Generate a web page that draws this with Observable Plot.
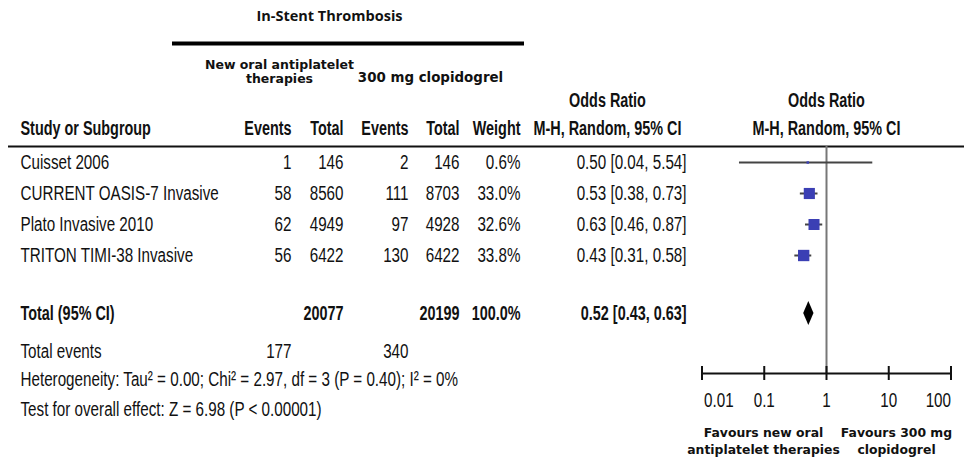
<!DOCTYPE html>
<html><head><meta charset="utf-8">
<script src="https://cdn.jsdelivr.net/npm/d3@7"></script>
<script src="https://cdn.jsdelivr.net/npm/@observablehq/plot@0.6"></script>
<style>
html,body{margin:0;padding:0;background:#fff;}
#chart{position:relative;width:964px;height:459px;overflow:hidden;background:#fff;}
#chart svg{position:absolute;left:0;top:0;}
</style></head><body><div id="chart"></div>
<script>
// ---------- DATA ----------
const studies = ["Cuisset 2006", "CURRENT OASIS-7 Invasive", "Plato Invasive 2010", "TRITON TIMI-38 Invasive"];
const eventsNew = [1, 58, 62, 56];
const totalNew = [146, 8560, 4949, 6422];
const eventsClop = [2, 111, 97, 130];
const totalClop = [146, 8703, 4928, 6422];
const weights = [0.6, 33.0, 32.6, 33.8];
const orEst = [0.50, 0.53, 0.63, 0.43];
const orLow = [0.04, 0.38, 0.46, 0.31];
const orHigh = [5.54, 0.73, 0.87, 0.58];

const pooledLabel = "Total (95% CI)";
const pooledTotals = [20077, 20199];
const pooledWeight = 100.0;
const pooledOR = [0.52, 0.43, 0.63]; // estimate, low, high
const totalEventsLabel = "Total events";
const totalEvents = [177, 340];
const heterogeneityText = "Heterogeneity: Tau\u00b2 = 0.00; Chi\u00b2 = 2.97, df = 3 (P = 0.40); I\u00b2 = 0%";
const overallEffectText = "Test for overall effect: Z = 6.98 (P < 0.00001)";

const titleText = "In-Stent Thrombosis";
const groupNew = ["New oral antiplatelet", "therapies"];
const groupClop = "300 mg clopidogrel";
const colHeaders = ["Events", "Total", "Events", "Total", "Weight"];
const orHeader = ["Odds Ratio", "M-H, Random, 95% CI"];
const studyHeader = "Study or Subgroup";
const axisTicks = [0.01, 0.1, 1, 10, 100];
const tickLabels = ["0.01", "0.1", "1", "10", "100"];
const favoursLeft = ["Favours new oral", "antiplatelet therapies"];
const favoursRight = ["Favours 300 mg", "clopidogrel"];

// ---------- LAYOUT (row units) ----------
const W = 964, H = 459;
const yScale = {domain: [-5.2258, 9.5806], range: [0, H]};
const L = {
  title: -4.71, titleRule: -3.84, group1: -3.13, group2: -2.68, groupClop: -2.74,
  orHead: -2.0, colHead: -1.097, headRule: -0.516,
  pooled: 4.87, totalEvents: 6.097, het: 7.0, effect: 7.968,
  axis: 6.806, tickHalf: 0.226, tickLabel: 7.68, fav1: 8.74, fav2: 9.26,
  diamondHalf: 0.39
};
const C = {study: 20, e1: 291, t1: 343, e2: 408, t2: 459, w: 520, ci: 686, ciMid: 607,
           grpNew: 279, grpClop: 430, title: 329, titleRuleX: [172, 524], headRuleX: [8, 964],
           favL: 763, favR: 896};
const narrow = "'Liberation Sans',Arial,sans-serif";   // condensed after rendering
const CONDENSE = {normal: 0.76, bold: 0.72};
const boldSans = "'DejaVu Sans',Verdana,sans-serif";
const FS = 20;

const fmtOR = (e, l, h) => `${e.toFixed(2)} [${l.toFixed(2)}, ${h.toFixed(2)}]`;
const rows = studies.map((s, i) => ({
  row: i, study: s, e1: String(eventsNew[i]), t1: String(totalNew[i]), e2: String(eventsClop[i]), t2: String(totalClop[i]),
  w: weights[i].toFixed(1) + "%", weight: weights[i], or: orEst[i], lo: orLow[i], hi: orHigh[i],
  orText: fmtOR(orEst[i], orLow[i], orHigh[i])
}));

const txt = (data, o) => Plot.text(data, {fontFamily: narrow, fontSize: FS, fill: "#111", ...o});

// ---------- TABLE LAYER ----------
const table = Plot.plot({
  width: W, height: H, margin: 0,
  x: {domain: [0, W], range: [0, W], axis: null},
  y: {...yScale, axis: null},
  marks: [
    Plot.text([titleText], {x: C.title, y: L.title, text: d => d, fontFamily: "'Open Sans',sans-serif", fontWeight: "bold", fontSize: 14.5, fill: "#111"}),
    Plot.ruleY([L.titleRule], {x1: C.titleRuleX[0], x2: C.titleRuleX[1], stroke: "#000", strokeWidth: 4}),
    Plot.text(groupNew, {x: C.grpNew, y: (d, i) => i === 0 ? L.group1 : L.group2, text: d => d, fontFamily: boldSans, fontWeight: "bold", fontSize: 12.5, fill: "#111"}),
    Plot.text([groupClop], {x: C.grpClop, y: L.groupClop, text: d => d, fontFamily: boldSans, fontWeight: "bold", fontSize: 13.4, fill: "#111"}),
    txt([orHeader[0]], {x: C.ciMid, y: L.orHead, text: d => d, fontWeight: "bold"}),
    txt([orHeader[1]], {x: C.ciMid, y: L.colHead, text: d => d, fontWeight: "bold"}),
    txt([studyHeader], {x: C.study, y: L.colHead, text: d => d, fontWeight: "bold", textAnchor: "start"}),
    txt(colHeaders, {x: (d, i) => [C.e1, C.t1, C.e2, C.t2, C.w][i], y: L.colHead, text: d => d, fontWeight: "bold", textAnchor: "end"}),
    Plot.ruleY([L.headRule], {x1: C.headRuleX[0], x2: C.headRuleX[1], stroke: "#111", strokeWidth: 2}),
    // study rows
    txt(rows, {x: C.study, y: "row", text: "study", textAnchor: "start"}),
    txt(rows, {x: C.e1, y: "row", text: "e1", textAnchor: "end"}),
    txt(rows, {x: C.t1, y: "row", text: "t1", textAnchor: "end"}),
    txt(rows, {x: C.e2, y: "row", text: "e2", textAnchor: "end"}),
    txt(rows, {x: C.t2, y: "row", text: "t2", textAnchor: "end"}),
    txt(rows, {x: C.w, y: "row", text: "w", textAnchor: "end"}),
    txt(rows, {x: C.ci, y: "row", text: "orText", textAnchor: "end"}),
    // pooled
    txt([pooledLabel], {x: C.study, y: L.pooled, text: d => d, textAnchor: "start", fontWeight: "bold"}),
    txt(pooledTotals, {x: (d, i) => [C.t1, C.t2][i], y: L.pooled, text: d => String(d), textAnchor: "end", fontWeight: "bold"}),
    txt([pooledWeight], {x: C.w, y: L.pooled, text: d => d.toFixed(1) + "%", textAnchor: "end", fontWeight: "bold"}),
    txt([pooledOR], {x: C.ci, y: L.pooled, text: d => fmtOR(...d), textAnchor: "end", fontWeight: "bold"}),
    txt([totalEventsLabel], {x: C.study, y: L.totalEvents, text: d => d, textAnchor: "start"}),
    txt(totalEvents, {x: (d, i) => [C.e1, C.e2][i], y: L.totalEvents, text: d => String(d), textAnchor: "end"}),
    txt([heterogeneityText], {x: C.study, y: L.het, text: d => d, textAnchor: "start"}),
    txt([overallEffectText], {x: C.study, y: L.effect, text: d => d, textAnchor: "start"}),
    Plot.text(favoursLeft, {x: C.favL, y: (d, i) => i === 0 ? L.fav1 : L.fav2, text: d => d, fontFamily: boldSans, fontWeight: "bold", fontSize: 12.4, fill: "#111"}),
    Plot.text(favoursRight, {x: C.favR, y: (d, i) => i === 0 ? L.fav1 : L.fav2, text: d => d, fontFamily: boldSans, fontWeight: "bold", fontSize: 12.4, fill: "#111"})
  ]
});

// ---------- FOREST LAYER ----------
const diamond = [
  {x: pooledOR[1], y1: L.pooled, y2: L.pooled},
  {x: pooledOR[0], y1: L.pooled - L.diamondHalf, y2: L.pooled + L.diamondHalf},
  {x: pooledOR[2], y1: L.pooled, y2: L.pooled}
];
const ticks = axisTicks.map((v, i) => ({v, label: tickLabels[i], i}));
const tickText = (data, anchor) => Plot.text(data, {x: "v", y: L.tickLabel, text: "label", textAnchor: anchor, dx: anchor === "start" ? 2 : 0, fontFamily: narrow, fontSize: FS, fill: "#111"});
const forest = Plot.plot({
  width: W, height: H, margin: 0,
  style: {background: "transparent"},
  x: {type: "log", domain: d3.extent(axisTicks), range: [701.5, 950.5], axis: null},
  y: {...yScale, axis: null},
  r: {type: "linear", domain: [0, d3.max(weights)], range: [1.3, 6.4]},
  marks: [
    Plot.ruleX([1], {y1: L.headRule, y2: L.axis, stroke: "#777", strokeWidth: 2}),
    Plot.ruleY(rows, {y: "row", x1: "lo", x2: "hi", stroke: "#444", strokeWidth: 2}),
    Plot.dot(rows, {x: "or", y: "row", r: "weight", symbol: "square", fill: "#3b3fb4"}),
    Plot.areaY(diamond, {x: "x", y1: "y1", y2: "y2", fill: "#000"}),
    Plot.ruleY([L.axis], {x1: d3.min(axisTicks), x2: d3.max(axisTicks), stroke: "#111", strokeWidth: 2}),
    Plot.ruleX(axisTicks, {x: d => d, y1: L.axis - L.tickHalf, y2: L.axis + L.tickHalf, stroke: "#111", strokeWidth: 2}),
    tickText(ticks.filter(d => d.i === 0), "start"),
    tickText(ticks.filter(d => d.i > 0 && d.i < ticks.length - 1), "middle"),
    tickText(ticks.filter(d => d.i === ticks.length - 1), "end"),
    Plot.text([orHeader[0]], {x: 1, y: L.orHead, text: d => d, fontFamily: narrow, fontSize: FS, fontWeight: "bold", fill: "#111"}),
    Plot.text([orHeader[1]], {x: 1, y: L.colHead, text: d => d, fontFamily: narrow, fontSize: FS, fontWeight: "bold", fill: "#111"})
  ]
});

const el = document.getElementById("chart");
el.appendChild(table);
el.appendChild(forest);

// Arial-Narrow look: condense the Liberation Sans glyphs horizontally (anchors are preserved)
for (const svg of [table, forest]) {
  d3.select(svg).selectAll("g[font-family*='Liberation Sans']").each(function() {
    const k = this.getAttribute("font-weight") === "bold" ? CONDENSE.bold : CONDENSE.normal;
    d3.select(this).selectAll("text").each(function() {
      const len = this.getComputedTextLength();
      this.setAttribute("textLength", (len * k).toFixed(2));
      this.setAttribute("lengthAdjust", "spacingAndGlyphs");
    });
  });
}
</script></body></html>
